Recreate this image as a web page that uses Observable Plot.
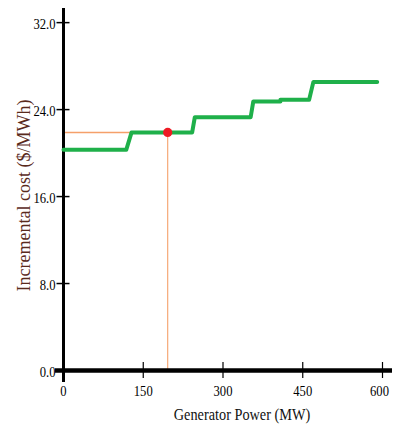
<!DOCTYPE html>
<html>
<head>
<meta charset="utf-8">
<script src="https://cdn.jsdelivr.net/npm/d3@7"></script>
<script src="https://cdn.jsdelivr.net/npm/@observablehq/plot@0.6"></script>
<style>
  html, body { margin: 0; padding: 0; background: #fff; }
  svg { display: block; }
</style>
</head>
<body>
<div id="chart"></div>
<script>
// Incremental cost curve (step-like)
const powerMW = [0, 118, 128, 242, 247, 352, 357, 408, 408, 462, 470, 590];
const costUSD = [20.3, 20.3, 21.9, 21.9, 23.3, 23.3, 24.75, 24.75, 24.9, 24.9, 26.55, 26.55];
// Operating point
const opPower = [196];
const opCost = [21.9];
// Ticks
const xTicks = [0, 150, 300, 450, 600];
const yTicks = [0, 8, 16, 24, 32];
const xLabel = "Generator Power (MW)";
const yLabel = "Incremental cost ($/MWh)";

const curve = powerMW.map((p, i) => ({p, c: costUSD[i]}));
const op = opPower.map((p, i) => ({p, c: opCost[i]}));
const xMax = d3.max(xTicks);

const chart = Plot.plot({
  width: 394,
  height: 425,
  marginLeft: 63,
  marginRight: 12,
  marginTop: 8,
  marginBottom: 55,
  style: {fontFamily: "'Liberation Serif', 'Times New Roman', serif", fontSize: "17px", background: "#fff", color: "#000"},
  x: {domain: [0, 600], axis: null},
  y: {domain: [0, 33.3], axis: null},
  marks: [
    // guide lines to operating point
    Plot.ruleY(op, {y: "c", x1: 0, x2: "p", stroke: "#f5a06a", strokeWidth: 1.5}),
    Plot.ruleX(op, {x: "p", y1: 0, y2: "c", stroke: "#f5a06a", strokeWidth: 1.1}),
    // axes lines
    Plot.ruleX([0], {stroke: "#000", strokeWidth: 3, insetBottom: -12}),
    Plot.ruleY([0], {stroke: "#000", strokeWidth: 4.5, insetLeft: -8, insetRight: -10}),
    // tick marks crossing the axes
    Plot.ruleX(xTicks, {x: d => d, y1: 0, y2: 0, insetTop: -8, insetBottom: -8, stroke: "#000", strokeWidth: 1.2}),
    Plot.ruleY(yTicks, {y: d => d, x1: 0, x2: 0, insetLeft: -6.5, insetRight: -6.5, stroke: "#000", strokeWidth: 1.5}),
    // tick labels
    Plot.text(yTicks, {x: 0, y: d => d, text: d => d.toFixed(1), textAnchor: "end", dx: -8, dy: 2, fontSize: 15, fill: "#000"}),
    Plot.text(xTicks, {filter: d => d < xMax, x: d => d, y: 0, text: d => String(d), dy: 21, fontSize: 15, fill: "#000"}),
    Plot.text(xTicks, {filter: d => d === xMax, x: d => d, y: 0, text: d => String(d), dx: -3, dy: 21, fontSize: 15, fill: "#000"}),
    // axis labels
    Plot.text([xLabel], {frameAnchor: "bottom", lineAnchor: "middle", textAnchor: "middle", text: d => d, dx: 19, dy: 44, fill: "#111"}),
    Plot.text([yLabel], {frameAnchor: "left", textAnchor: "middle", lineAnchor: "middle", text: d => d, rotate: -90, dx: -39, dy: 6, fontSize: 18, fill: "#5a2a1c"}),
    // cost curve
    Plot.line(curve, {x: "p", y: "c", stroke: "#1fb04a", strokeWidth: 4, strokeLinejoin: "round", curve: "linear"}),
    // operating point
    Plot.dot(op, {x: "p", y: "c", r: 4.6, fill: "#ee1b24", stroke: "none"})
  ]
});

document.getElementById("chart").appendChild(chart);

// horizontally condense the upright texts to match the reference's narrow glyphs
chart.querySelectorAll("text").forEach(t => {
  const tr = (t.getAttribute("transform") || "");
  if (tr.includes("rotate")) return;
  const len = t.getComputedTextLength();
  if (len > 0) {
    t.setAttribute("textLength", (len * 0.84).toFixed(1));
    t.setAttribute("lengthAdjust", "spacingAndGlyphs");
  }
});
</script>
</body>
</html>
